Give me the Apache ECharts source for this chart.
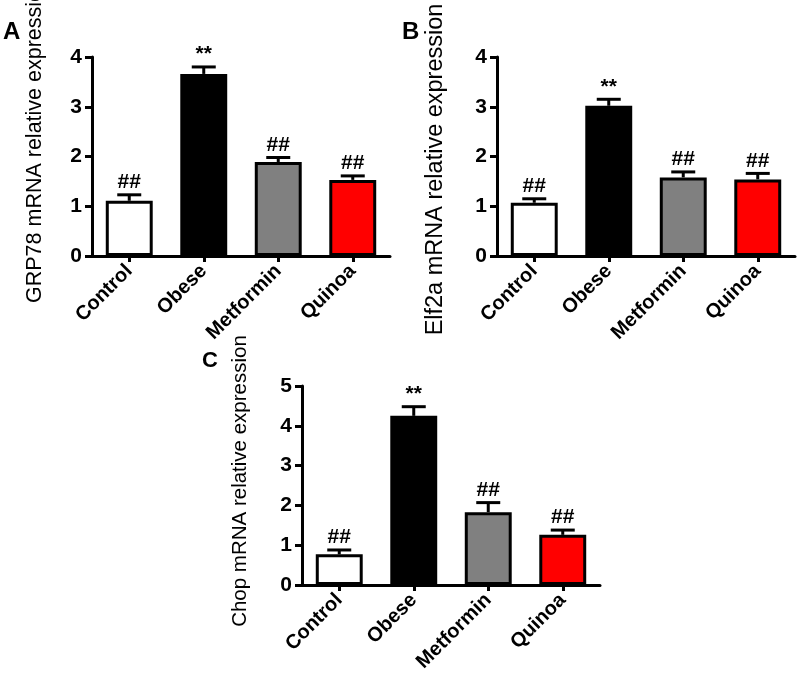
<!DOCTYPE html>
<html>
<head>
<meta charset="utf-8">
<script src="https://cdn.jsdelivr.net/npm/echarts@6/dist/echarts.min.js"></script>
<style>
  html, body { margin: 0; padding: 0; background: #fff; }
  #chart { width: 797px; height: 674px; }
</style>
</head>
<body>
<div id="chart"></div>
<script>
// ---- data ----
const categories = ['Control', 'Obese', 'Metformin', 'Quinoa'];
const barColors = ['#ffffff', '#000000', '#808080', '#ff0000'];
const sigLabels = ['##', '**', '##', '##'];

const grp78Mean = [1.11, 3.66, 1.89, 1.53];
const grp78Err  = [0.12, 0.14, 0.09, 0.08];

const elf2aMean = [1.07, 3.02, 1.58, 1.54];
const elf2aErr  = [0.08, 0.13, 0.11, 0.12];

const chopMean = [0.77, 4.25, 1.83, 1.26];
const chopErr  = [0.11, 0.23, 0.24, 0.12];

const yMaxAB = 4;
const yMaxC = 5;
const yInterval = 1;

const panelLetters = ['A', 'B', 'C'];
const yTitles = ['GRP78 mRNA relative expression', 'Elf2a mRNA relative expression', 'Chop mRNA relative expression'];

// ---- build ----
const FONT = '"Liberation Sans", Arial, Helvetica, sans-serif';
const panels = [
  { mean: grp78Mean, err: grp78Err, max: yMaxAB, grid: { left: 92, top: 57, width: 298, height: 199 }, nameGap: 46, namePad: [0, 0, 0, 32], nameSize: 21.5 },
  { mean: elf2aMean, err: elf2aErr, max: yMaxAB, grid: { left: 497, top: 57, width: 298, height: 199 }, nameGap: 49, namePad: [0, 26, 0, 0], nameSize: 23.5 },
  { mean: chopMean,  err: chopErr,  max: yMaxC,  grid: { left: 302, top: 386, width: 298, height: 199 }, nameGap: 51, namePad: [0, 0, 0, 9], nameSize: 20.5 }
];

const grids = [], xAxes = [], yAxes = [], series = [];
panels.forEach((p, k) => {
  grids.push(Object.assign({ containLabel: false, outerBoundsMode: 'none' }, p.grid));
  xAxes.push({
    type: 'category', gridIndex: k, data: categories,
    axisLine: { show: true, lineStyle: { color: '#000', width: 3 } },
    axisTick: { show: true, alignWithLabel: true, length: 6, lineStyle: { color: '#000', width: 3 } },
    axisLabel: { interval: 0, rotate: 45, margin: 12, color: '#000', fontSize: 20, fontWeight: 'bold', fontFamily: FONT },
    splitLine: { show: false }
  });
  yAxes.push({
    type: 'value', gridIndex: k, min: 0, max: p.max, interval: yInterval,
    name: yTitles[k], nameLocation: 'middle', nameRotate: 90, nameGap: p.nameGap,
    nameTextStyle: { color: '#000', fontSize: p.nameSize, fontFamily: FONT, padding: p.namePad },
    axisLine: { show: true, lineStyle: { color: '#000', width: 3 } },
    axisTick: { show: true, length: 7, lineStyle: { color: '#000', width: 3 } },
    axisLabel: { color: '#000', fontSize: 21, fontWeight: 'bold', fontFamily: FONT, margin: 10 },
    splitLine: { show: false }
  });
  series.push({
    type: 'bar', xAxisIndex: k, yAxisIndex: k, barWidth: '63%',
    data: p.mean.map((v, i) => ({ value: v, itemStyle: { color: barColors[i], borderColor: '#000', borderWidth: 3 } })),
    z: 2, animation: false
  });
  series.push({
    type: 'custom', xAxisIndex: k, yAxisIndex: k, z: 3, animation: false, clip: false,
    data: p.mean.map((v, i) => [i, v, p.err[i]]),
    renderItem: function (params, api) {
      const i = api.value(0), m = api.value(1), e = api.value(2);
      const p0 = api.coord([i, m]);
      const p1 = api.coord([i, m + e]);
      const half = 12;
      return {
        type: 'group',
        children: [
          { type: 'line', shape: { x1: p0[0], y1: p0[1], x2: p1[0], y2: p1[1] }, style: { stroke: '#000', lineWidth: 3 } },
          { type: 'line', shape: { x1: p1[0] - half, y1: p1[1], x2: p1[0] + half, y2: p1[1] }, style: { stroke: '#000', lineWidth: 3 } },
          { type: 'text', x: p1[0], y: p1[1] - 2, style: { text: sigLabels[params.dataIndex], x: 0, y: 0, align: 'center', verticalAlign: 'bottom', fill: '#000', fontSize: 21, fontWeight: 'bold', fontFamily: FONT } }
        ]
      };
    }
  });
});

const titles = [
  { text: panelLetters[0], left: 3, top: 20, textStyle: { fontSize: 24, fontWeight: 'bold', color: '#000', fontFamily: FONT } },
  { text: panelLetters[1], left: 402, top: 20, textStyle: { fontSize: 24, fontWeight: 'bold', color: '#000', fontFamily: FONT } },
  { text: panelLetters[2], left: 202, top: 350, textStyle: { fontSize: 22, fontWeight: 'bold', color: '#000', fontFamily: FONT } }
];
titles.forEach(t => { t.padding = 0; });

const chart = echarts.init(document.getElementById('chart'), null, { renderer: 'canvas' });
chart.setOption({
  animation: false,
  backgroundColor: '#fff',
  title: titles,
  grid: grids,
  xAxis: xAxes,
  yAxis: yAxes,
  series: series
});
</script>
</body>
</html>
